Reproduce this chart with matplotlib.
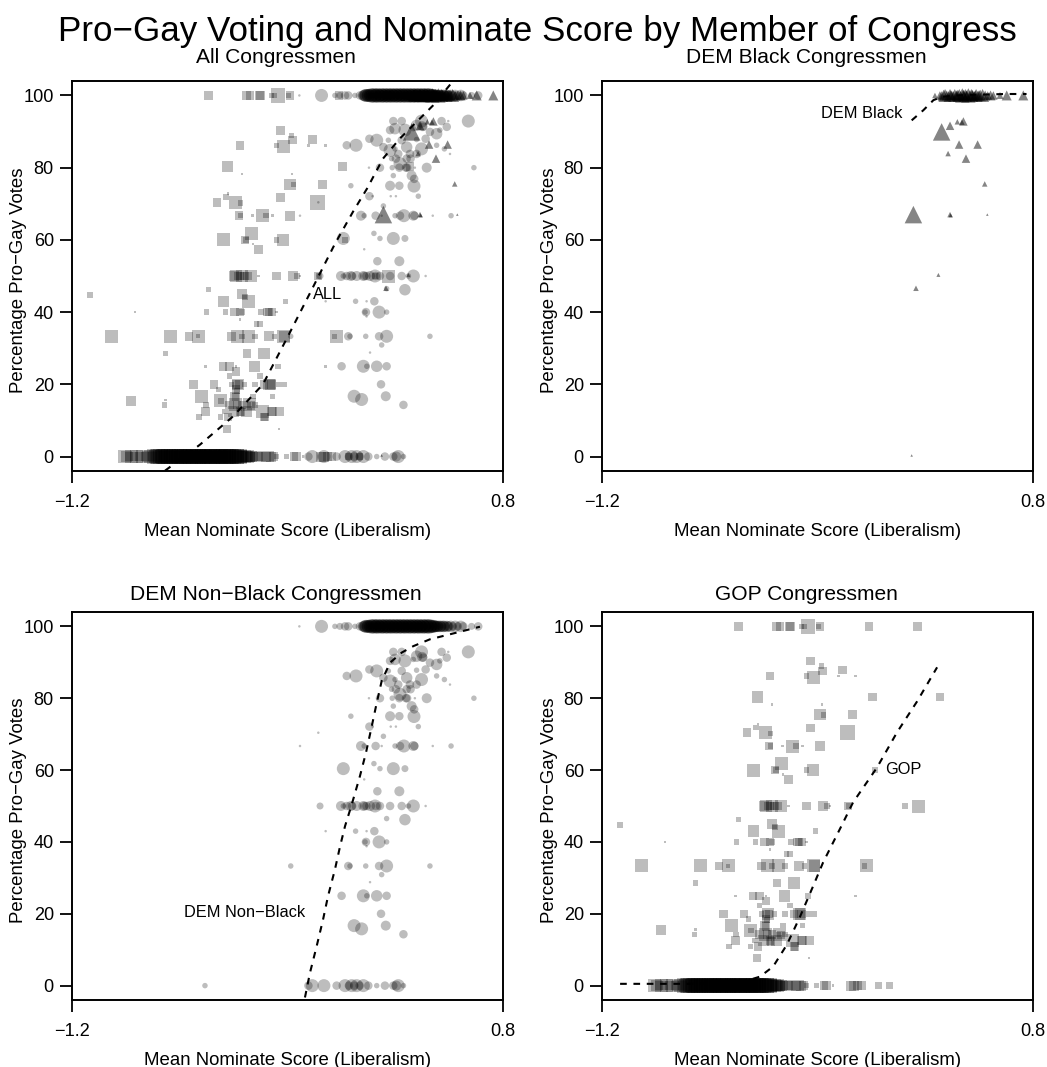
import matplotlib
matplotlib.use("Agg")
import matplotlib.pyplot as plt

plt.rcParams['font.family'] = ['Liberation Sans', 'DejaVu Sans']

# ---------------- data (x = mean nominate score, y = % pro-gay votes, n = vote-count size class)
GOP_ZERO = [
    (-0.955, 4.5), (-0.946, 4), (-0.936, 3), (-0.925, 4.5), (-0.912, 3), (-0.901, 4.5), (-0.887, 3),
    (-0.872, 4.5), (-0.861, 3), (-0.847, 4), (-0.836, 4.5), (-0.826, 3),
    (-0.817, 5), (-0.811, 4.5), (-0.803, 5), (-0.796, 4), (-0.79, 5), (-0.784, 4.5), (-0.777, 5),
    (-0.771, 4), (-0.765, 5), (-0.759, 4.5), (-0.752, 5), (-0.747, 4), (-0.741, 5), (-0.735, 4.5),
    (-0.728, 5), (-0.722, 4), (-0.716, 5), (-0.711, 4.5), (-0.705, 5), (-0.699, 4), (-0.694, 5),
    (-0.688, 4.5), (-0.683, 5), (-0.677, 4), (-0.671, 5), (-0.666, 4.5), (-0.66, 5), (-0.655, 4),
    (-0.649, 5), (-0.644, 4.5), (-0.639, 5), (-0.633, 4), (-0.628, 5), (-0.622, 4.5), (-0.617, 5),
    (-0.612, 4), (-0.606, 5), (-0.601, 4.5), (-0.595, 5), (-0.59, 4), (-0.585, 5), (-0.579, 4.5),
    (-0.574, 5), (-0.568, 4), (-0.563, 5), (-0.557, 4.5), (-0.552, 5), (-0.546, 4), (-0.541, 5),
    (-0.535, 4.5), (-0.53, 5), (-0.524, 4), (-0.519, 5), (-0.513, 4.5), (-0.508, 5), (-0.502, 4),
    (-0.497, 5), (-0.491, 4.5), (-0.486, 5), (-0.48, 4), (-0.474, 5), (-0.468, 4.5), (-0.462, 5),
    (-0.456, 4), (-0.45, 5), (-0.443, 4.5), (-0.437, 5), (-0.43, 4), (-0.423, 5), (-0.416, 4.5),
    (-0.409, 4), (-0.401, 4.5), (-0.393, 4), (-0.385, 4.5), (-0.376, 3.5), (-0.367, 4),
    (-0.356, 3), (-0.346, 4), (-0.335, 3), (-0.321, 3), (-0.302, 3.5), (-0.29, 4), (-0.276, 3.5),
    (-0.265, 3), (-0.25, 2), (-0.205, 2), (-0.17, 3), (-0.158, 3), (-0.127, 1), (-0.045, 3.5),
    (-0.03, 3.5), (-0.015, 3), (0.005, 3), (0.082, 2.5), (0.136, 2.5),
]

GOP_ZERO_EXTRA = [
    (-0.814, 4.5), (-0.799, 5), (-0.787, 4.5), (-0.774, 5), (-0.762, 4.5), (-0.749, 5), (-0.738, 4.5),
    (-0.725, 5), (-0.713, 4.5), (-0.702, 5), (-0.691, 4.5), (-0.68, 5), (-0.669, 4.5), (-0.657, 5),
    (-0.647, 4.5), (-0.636, 5), (-0.625, 4.5), (-0.614, 5), (-0.604, 4.5), (-0.593, 5), (-0.582, 4.5),
    (-0.571, 5), (-0.56, 4.5), (-0.549, 5), (-0.538, 4.5), (-0.527, 5), (-0.516, 4.5), (-0.505, 5),
    (-0.494, 4.5), (-0.483, 5), (-0.471, 4.5), (-0.459, 5), (-0.447, 4.5), (-0.434, 5), (-0.42, 4.5),
    (-0.405, 4), (-0.389, 4), (-0.372, 3.5),
]

GOP_OTHER = [
    (-0.567, 100, 3), (-0.39, 100, 3), (-0.375, 100, 3), (-0.33, 100, 3), (-0.325, 100, 3),
    (-0.275, 100, 2), (-0.26, 100, 2), (-0.245, 100, 5), (-0.195, 100, 2), (-0.188, 100, 3),
    (0.04, 100, 3), (0.265, 100, 3),
    (-0.232, 90.3, 3), (-0.181, 88.9, 2), (-0.176, 87.6, 3), (-0.083, 87.8, 3), (-0.42, 86.2, 3),
    (-0.25, 86.2, 2), (-0.22, 85.8, 4.5), (-0.103, 86.2, 1), (-0.023, 86.2, 1),
    (-0.479, 80.3, 4), (0.056, 80.3, 3), (0.368, 80.3, 3), (-0.41, 78.2, 1), (-0.18, 78.2, 1),
    (-0.188, 75.4, 4), (-0.173, 75.3, 2), (-0.037, 75.4, 3),
    (-0.232, 71.7, 3), (-0.485, 71.9, 2), (-0.475, 72.8, 1), (-0.526, 70.4, 3), (-0.44, 70.4, 4.5),
    (-0.418, 70.2, 2), (-0.06, 70.4, 5),
    (-0.425, 66.7, 3), (-0.418, 66.7, 2), (-0.363, 66.7, 1), (-0.315, 66.7, 4.5), (-0.3, 66.7, 2),
    (-0.27, 66.7, 1), (-0.188, 66.7, 3.5),
    (-0.369, 61.8, 4.5), (-0.499, 60, 4.5), (-0.397, 60, 3), (-0.392, 60, 2), (-0.25, 60, 2),
    (-0.22, 60, 4), (0.067, 60, 2), (-0.36, 58.8, 1), (-0.335, 57.4, 3),
    (-0.45, 50, 3.5), (-0.44, 50, 4), (-0.43, 50, 3), (-0.42, 50, 3), (-0.41, 50, 4), (-0.40, 50, 3),
    (-0.385, 50, 3), (-0.37, 50, 4), (-0.335, 50, 1), (-0.25, 50, 3), (-0.175, 50, 3.5),
    (-0.155, 50, 2), (-0.142, 50, 1), (-0.058, 50, 3), (-0.055, 50, 2), (0.206, 50, 2), (0.268, 50, 4.5),
    (-0.567, 46.2, 2), (-1.116, 44.7, 2), (-0.41, 44.9, 3.5), (-0.498, 43.0, 4), (-0.397, 44.2, 2),
    (-0.379, 43.0, 4.5), (-0.21, 43.0, 2),
    (-0.908, 40, 1), (-0.575, 40, 2), (-0.487, 40, 2), (-0.445, 40, 3), (-0.42, 40, 3), (-0.41, 40, 2),
    (-0.323, 40, 2), (-0.292, 40, 3), (-0.285, 40, 3), (-0.273, 40, 3), (-0.252, 40, 1),
    (-0.42, 37.9, 1), (-0.343, 36.7, 2), (-0.328, 36.7, 2),
    (-1.016, 33.3, 4.5), (-0.745, 33.3, 4.5), (-0.657, 33.3, 3), (-0.611, 33.3, 4.5), (-0.614, 33.3, 1.5),
    (-0.459, 33.3, 3), (-0.43, 33.3, 4.5), (-0.41, 33.3, 2), (-0.379, 33.3, 4.5), (-0.35, 33.3, 2),
    (-0.286, 33.3, 3.5), (-0.26, 33.3, 2), (-0.22, 33.3, 4.5), (-0.215, 33.3, 4), (0.028, 33.3, 4.5),
    (0.018, 33.3, 2),
    (-0.765, 28.6, 2), (-0.389, 28.6, 3), (-0.308, 28.6, 4),
    (-0.58, 25, 1), (-0.50, 25, 3), (-0.47, 25, 3), (-0.44, 25, 1), (-0.354, 25, 4), (-0.245, 25, 2),
    (-0.023, 25, 1), (-0.44, 23.5, 3), (-0.47, 22.3, 2), (-0.328, 22.3, 2),
    (-0.637, 20, 3), (-0.54, 20, 3), (-0.46, 20, 2), (-0.44, 20, 3), (-0.43, 20, 4), (-0.425, 20, 3),
    (-0.40, 20, 2), (-0.35, 20, 2), (-0.31, 20, 3), (-0.285, 20, 4), (-0.28, 20, 4), (-0.275, 20, 3),
    (-0.24, 20, 2), (-0.215, 20, 2),
    (-0.52, 18.6, 2), (-0.44, 18.6, 3), (-0.435, 18.2, 2),
    (-0.598, 16.7, 4.5), (-0.445, 16.7, 3), (-0.44, 16.5, 3), (-0.36, 16.7, 2), (-0.27, 16.7, 2),
    (-0.926, 15.4, 3.5), (-0.765, 15.6, 1), (-0.509, 15.4, 4.5), (-0.509, 15.4, 2),
    (-0.77, 14.3, 2), (-0.578, 14.3, 2), (-0.47, 14.3, 3), (-0.44, 14.3, 4.5), (-0.435, 14.3, 3),
    (-0.41, 14.3, 3), (-0.38, 14.3, 2), (-0.375, 14.3, 4.5), (-0.37, 14.1, 3), (-0.35, 14.3, 2),
    (-0.58, 12.5, 3), (-0.49, 12.5, 2), (-0.45, 12.5, 4), (-0.42, 12.5, 3), (-0.415, 12.3, 3),
    (-0.39, 12.5, 4), (-0.315, 12.5, 4.5), (-0.275, 12.5, 3), (-0.27, 12.5, 3), (-0.237, 12.5, 3),
    (-0.61, 10.9, 2), (-0.51, 10.9, 2), (-0.475, 10.9, 3), (-0.31, 10.9, 3), (-0.305, 10.9, 3),
    (-0.48, 7.7, 3), (-0.24, 7.7, 1),
]

NB_TOP = [
    (-0.145, 1), (-0.042, 4.5), (0.020, 2), (0.043, 2.5), (0.067, 3), (0.082, 3), (0.113, 2), (0.136, 3),
    (0.150, 3.5), (0.155, 4), (0.161, 4), (0.166, 4.5), (0.171, 4), (0.177, 4.5), (0.182, 4), (0.188, 5),
    (0.193, 4.5), (0.198, 4), (0.204, 5), (0.209, 4.5), (0.214, 4), (0.219, 5), (0.225, 4.5), (0.230, 4),
    (0.236, 5), (0.241, 4.5), (0.246, 4), (0.252, 5), (0.257, 4.5), (0.262, 4), (0.268, 5), (0.273, 4.5),
    (0.279, 4), (0.284, 5), (0.289, 4.5), (0.295, 4), (0.300, 5), (0.305, 4.5), (0.311, 4), (0.316, 5),
    (0.321, 4.5), (0.327, 4), (0.332, 5), (0.337, 4.5), (0.343, 4), (0.348, 5), (0.353, 4.5), (0.359, 4),
    (0.364, 5), (0.369, 4.5), (0.375, 4), (0.380, 5), (0.385, 4.5), (0.391, 4), (0.396, 5), (0.401, 4.5),
    (0.407, 4), (0.412, 5), (0.417, 4.5), (0.423, 4), (0.428, 5), (0.433, 4.5), (0.439, 4), (0.444, 5),
    (0.449, 4.5), (0.455, 4), (0.460, 5), (0.466, 4.5), (0.471, 4), (0.477, 4.5), (0.482, 4), (0.488, 4),
    (0.494, 4), (0.500, 3.5), (0.507, 4), (0.514, 3.5), (0.522, 4), (0.530, 3.5), (0.539, 4), (0.548, 3.5),
    (0.557, 4), (0.567, 3), (0.578, 4), (0.590, 3), (0.604, 4), (0.616, 3), (0.654, 2.5), (0.685, 3),
]

NB_TOP_EXTRA = [
    (0.163, 4.5), (0.174, 4.5), (0.185, 4.5), (0.196, 5), (0.207, 4.5), (0.217, 5), (0.228, 4.5),
    (0.239, 5), (0.249, 4.5), (0.26, 5), (0.271, 4.5), (0.281, 5), (0.292, 4.5), (0.303, 5), (0.313, 4.5),
    (0.324, 5), (0.335, 4.5), (0.345, 5), (0.356, 4.5), (0.367, 5), (0.377, 4.5), (0.388, 5), (0.399, 4.5),
    (0.409, 5), (0.42, 4.5), (0.431, 5), (0.441, 4.5), (0.452, 5), (0.463, 4.5), (0.474, 4.5), (0.485, 4),
    (0.497, 4), (0.511, 4), (0.526, 4), (0.543, 3.5),
]

NB_OTHER = [
    (0.291, 92.9, 3), (0.330, 92.9, 3), (0.422, 92.9, 4.5), (0.425, 91.5, 3.5), (0.515, 92.9, 3),
    (0.546, 92.9, 1), (0.639, 92.9, 4.5),
    (0.276, 90.4, 3), (0.299, 90.8, 4), (0.345, 90.4, 4.5), (0.384, 90.8, 2), (0.399, 91.7, 4),
    (0.430, 91.3, 3), (0.461, 89.9, 3), (0.492, 89.4, 4), (0.507, 90.4, 2), (0.539, 91.3, 3),
    (0.075, 86.2, 3), (0.118, 86.2, 4.5), (0.180, 88.0, 3), (0.214, 87.6, 4.5), (0.268, 87.6, 2),
    (0.330, 87.6, 3), (0.399, 87.8, 2), (0.441, 88.0, 3), (0.492, 86.2, 2), (0.528, 85.2, 2),
    (0.554, 83.8, 1),
    (0.245, 85.7, 3), (0.276, 84.8, 4.5), (0.314, 83.8, 3), (0.353, 85.7, 4), (0.368, 83.8, 3),
    (0.399, 83.8, 3), (0.422, 85.2, 4.5), (0.299, 85.2, 2),
    (0.283, 82.5, 2), (0.303, 82.5, 3), (0.322, 81.1, 4.5), (0.353, 82.5, 3), (0.371, 82.5, 3),
    (0.178, 80.0, 1), (0.229, 80.0, 3), (0.286, 80.0, 2), (0.319, 80.0, 3), (0.350, 80.0, 3),
    (0.355, 80.0, 3), (0.391, 80.0, 1), (0.446, 80.0, 3.5), (0.665, 80.0, 2),
    (0.291, 77.8, 2), (0.376, 77.8, 3.5), (0.388, 76.9, 3),
    (0.094, 75.0, 2), (0.276, 75.0, 3.5), (0.319, 75.0, 3), (0.387, 74.9, 4.5),
    (0.180, 72.1, 3), (0.195, 72.1, 1), (0.279, 72.1, 1), (0.303, 72.1, 1), (0.407, 72.1, 2),
    (-0.057, 70.4, 1), (0.245, 69.4, 2),
    (-0.142, 66.7, 1), (0.141, 66.7, 3.5), (0.156, 66.7, 2), (0.209, 66.7, 3), (0.237, 66.7, 1),
    (0.299, 66.7, 2), (0.322, 66.7, 3), (0.340, 66.7, 4.5), (0.384, 66.7, 3.5), (0.389, 66.7, 3),
    (0.474, 66.7, 1), (0.559, 66.7, 2),
    (0.059, 60.4, 4.5), (0.201, 61.8, 2), (0.229, 60.4, 2), (0.291, 60.4, 4.5), (0.345, 60.4, 2.5),
    (0.156, 57.4, 1), (0.217, 54.1, 3), (0.319, 54.1, 3.5),
    (-0.049, 50, 2.5), (0.048, 50, 3.5), (0.059, 50, 2), (0.075, 50, 3), (0.094, 50, 3.5),
    (0.100, 50, 3), (0.121, 50, 3.5), (0.152, 50, 3.5), (0.156, 50, 3), (0.166, 50, 3),
    (0.183, 50, 3.5), (0.206, 50, 4.5), (0.210, 50, 3), (0.229, 50, 3), (0.276, 50, 3),
    (0.330, 50, 3), (0.361, 50, 2), (0.384, 50, 4.5), (0.441, 50, 1),
    (0.260, 46.5, 2), (0.345, 46.2, 4),
    (-0.023, 43, 1), (0.116, 43, 2), (0.167, 43, 1), (0.203, 43, 3),
    (0.164, 40, 3), (0.160, 40, 2), (0.225, 40, 4.5), (0.26, 40, 2), (0.167, 38.8, 1),
    (-0.185, 33.3, 2), (0.082, 33.3, 3), (0.090, 33.3, 2), (0.163, 33.3, 2), (0.225, 33.3, 3),
    (0.260, 33.3, 4.5), (0.461, 33.3, 2),
    (0.237, 30.9, 2), (0.183, 28.8, 1),
    (0.051, 25, 3), (0.152, 25, 4.5), (0.168, 25, 2), (0.214, 25, 4), (0.26, 25, 3),
    (0.234, 20, 3), (0.109, 16.7, 4.5), (0.144, 15.8, 4.5), (0.256, 16.7, 3.5), (0.338, 14.3, 3),
    (-0.583, 0, 2), (-0.103, 0, 3), (-0.085, 0, 4.5), (-0.031, 0, 4.5), (0.028, 0, 3), (0.067, 0, 4.5),
    (0.085, 0, 3), (0.098, 0, 4.5), (0.110, 0, 3), (0.121, 0, 4.5), (0.135, 0, 3), (0.152, 0, 4.5),
    (0.175, 0, 3), (0.214, 0, 2), (0.252, 0, 3), (0.291, 0, 3), (0.305, 0, 3.5), (0.314, 0, 4.5),
    (0.338, 0, 2),
]

DB_TOP = [
    (0.345, 2), (0.368, 3), (0.376, 3), (0.385, 4), (0.392, 4.5), (0.400, 3.5), (0.408, 3), (0.415, 4.5),
    (0.423, 3.5), (0.430, 3), (0.437, 4.5), (0.444, 3.5), (0.451, 4), (0.458, 4.5), (0.465, 3), (0.472, 5),
    (0.479, 3.5), (0.486, 4.5), (0.493, 3.5), (0.500, 5), (0.507, 3.5), (0.514, 4.5), (0.521, 3.5),
    (0.528, 3), (0.536, 4.5), (0.545, 3.5), (0.555, 4), (0.566, 4.5), (0.578, 3.5), (0.590, 3),
    (0.603, 3.5), (0.616, 3), (0.647, 2.5), (0.678, 3.5), (0.755, 3.5),
    (0.418, 3.5), (0.447, 3.5), (0.476, 4), (0.49, 3.5), (0.518, 4), (0.532, 3.5), (0.55, 3.5),
]

DB_OTHER = [
    (0.449, 92.7, 2), (0.477, 92.8, 3), (0.470, 92.6, 2), (0.415, 91.6, 3), (0.376, 89.9, 6),
    (0.457, 86.4, 3), (0.543, 86.4, 3), (0.406, 83.9, 2), (0.489, 82.5, 3), (0.576, 75.5, 2),
    (0.245, 67.0, 6), (0.415, 67.0, 2), (0.418, 66.8, 1.5), (0.588, 67.0, 1),
    (0.361, 50.3, 1.5), (0.257, 46.6, 2), (0.237, 0.3, 1),
]

ALL_FIT_X = [-0.768, -0.606, -0.453, -0.314, -0.198, -0.086, 0.020, 0.104, 0.169, 0.243, 0.322, 0.401, 0.475, 0.563]
ALL_FIT_Y = [-3.9, 3.3, 11.1, 20.0, 33.3, 46.4, 58.9, 67.8, 74.2, 82.5, 88.1, 92.8, 97.2, 103.6]
DB_FIT_X = [0.237, 0.291, 0.338, 0.376, 0.45, 0.55, 0.67, 0.77]
DB_FIT_Y = [93.1, 95.9, 98.7, 99.6, 100.0, 100.2, 100.4, 100.4]
NB_FIT_X = [-0.119, -0.096, -0.065, -0.035, -0.012, 0.020, 0.044, 0.067, 0.098, 0.136, 0.164, 0.191,
            0.214, 0.237, 0.276, 0.330, 0.384, 0.461, 0.554, 0.693]
NB_FIT_Y = [-3.3, 3.5, 10.9, 18.4, 24.9, 32.3, 38.8, 44.4, 50.4, 58.3, 64.8, 72.2, 78.7, 84.8, 89.9,
            92.7, 94.5, 96.4, 97.8, 99.9]
GOP_FIT_X = [-1.116, -0.745, -0.560, -0.467, -0.406, -0.342, -0.281, -0.221, -0.174, -0.086, -0.035,
             0.076, 0.169, 0.262, 0.355]
GOP_FIT_Y = [0.5, 0.5, 0.8, 2.5, 5.3, 11.4, 19.2, 27.6, 34.3, 44.8, 51.0, 60.7, 70.5, 79.1, 88.6]

X_TICKS = [-1.2, 0.8]
X_TICK_LABELS = ['\u22121.2', '0.8']
Y_TICKS = [0, 20, 40, 60, 80, 100]

TITLE = 'Pro\u2212Gay Voting and Nominate Score by Member of Congress'
SUBTITLES = ['All Congressmen', 'DEM Black Congressmen', 'DEM Non\u2212Black Congressmen', 'GOP Congressmen']
XLAB = 'Mean Nominate Score (Liberalism)'
YLAB = 'Percentage Pro\u2212Gay Votes'

# ---------------- helpers
W, H = 1047, 1067
fig = plt.figure(figsize=(W / 100, H / 100), dpi=100)


def msize(n):
    px = 3.0 * n - 0.5
    return (px * 0.72) ** 2


def unpack3(pts):
    return [p[0] for p in pts], [p[1] for p in pts], [msize(p[2]) for p in pts]


def unpack_row(pts, yv):
    return [p[0] for p in pts], [yv] * len(pts), [msize(p[1]) for p in pts]


gop_sets = [unpack_row(GOP_ZERO, 0), unpack_row(GOP_ZERO_EXTRA, 0), unpack3(GOP_OTHER)]
nb_sets = [unpack_row(NB_TOP, 100), unpack_row(NB_TOP_EXTRA, 100), unpack3(NB_OTHER)]
db_sets = [unpack_row(DB_TOP, 100), unpack3(DB_OTHER)]


def draw_group(ax, sets, marker, alpha):
    for xs, ys, ss in sets:
        ax.scatter(xs, ys, s=ss, marker=marker, c='black', alpha=alpha, linewidths=0, zorder=2)


panels = [(72, 81, 503, 471), (602, 81, 1033, 471), (72, 612, 503, 1000), (602, 612, 1033, 1000)]
axes = []
for (l, t, r, b) in panels:
    ax = fig.add_axes([l / W, 1 - b / H, (r - l) / W, (b - t) / H])
    ax.set_xlim(-1.2, 0.8)
    ax.set_ylim(-4, 104)
    ax.set_xticks(X_TICKS)
    ax.set_xticklabels(X_TICK_LABELS)
    ax.set_yticks(Y_TICKS)
    ax.tick_params(direction='out', length=8.6, width=1.3, labelsize=13.1, colors='black')
    ax.tick_params(axis='x', pad=8.0)
    ax.tick_params(axis='y', pad=4.5)
    for sp in ax.spines.values():
        sp.set_linewidth(1.4)
    axes.append(ax)

dash = (0, (3.2, 3.2))
SQ_A, CI_A, TR_A = 0.26, 0.26, 0.48

# All
ax = axes[0]
draw_group(ax, gop_sets, 's', SQ_A)
draw_group(ax, nb_sets, 'o', CI_A)
draw_group(ax, db_sets, '^', TR_A)
ax.plot(ALL_FIT_X, ALL_FIT_Y, color='black', lw=1.5, linestyle=dash, zorder=3)
ax.text(-0.082, 45, 'ALL', ha='left', va='center', fontsize=11.8)

# DEM Black
ax = axes[1]
draw_group(ax, db_sets, '^', TR_A)
ax.plot(DB_FIT_X, DB_FIT_Y, color='black', lw=1.5, linestyle=dash, zorder=3)
ax.text(0.192, 95, 'DEM Black', ha='right', va='center', fontsize=11.8)

# DEM Non-Black
ax = axes[2]
draw_group(ax, nb_sets, 'o', CI_A)
ax.plot(NB_FIT_X, NB_FIT_Y, color='black', lw=1.5, linestyle=dash, zorder=3)
ax.text(-0.119, 20.3, 'DEM Non\u2212Black', ha='right', va='center', fontsize=11.8)

# GOP
ax = axes[3]
draw_group(ax, gop_sets, 's', SQ_A)
ax.plot(GOP_FIT_X, GOP_FIT_Y, color='black', lw=1.5, linestyle=dash, zorder=3)
ax.text(0.113, 60.2, 'GOP', ha='left', va='center', fontsize=11.8)

# ---------------- texts
fig.text(537 / W, 1 - 41 / H, TITLE, ha='center', va='baseline', fontsize=25.2)
sub_pos = [(276, 63), (806, 63), (276, 600), (806, 600)]
for (cx, by), s in zip(sub_pos, SUBTITLES):
    fig.text(cx / W, 1 - by / H, s, ha='center', va='baseline', fontsize=15.1)
for (l, t, r, b) in panels:
    fig.text(((l + r) / 2) / W, 1 - (b + 65) / H, XLAB, ha='center', va='baseline', fontsize=13.4)
    fig.text((l - 53) / W, 1 - ((t + b) / 2 + 4) / H, YLAB, ha='center', va='center',
             rotation=90, fontsize=13.4)

fig.savefig('out.png', dpi=100)
